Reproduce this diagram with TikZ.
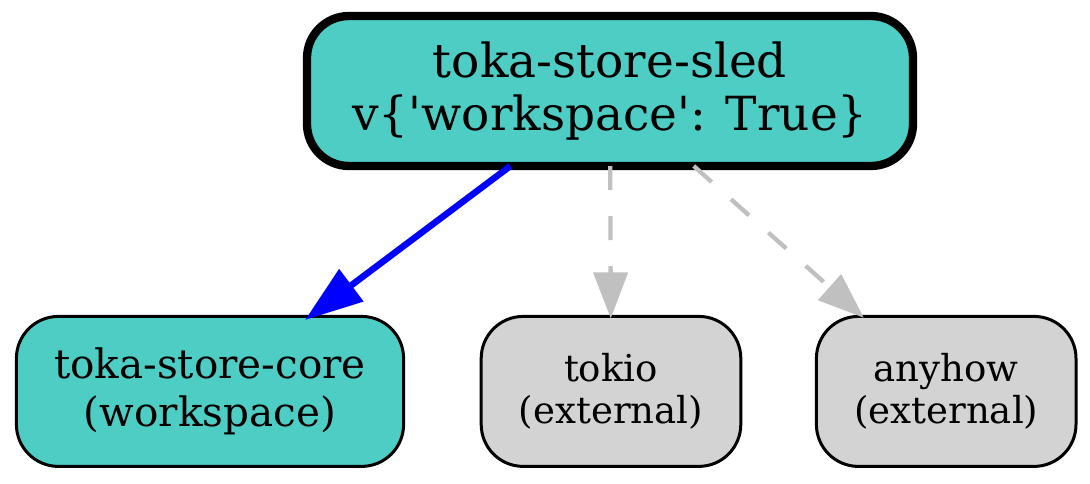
\documentclass[tikz,border=0pt]{standalone}
\usepackage{fontspec}
\newfontfamily\dvs{DejaVu Serif}
\usetikzlibrary{arrows.meta}
\definecolor{tealfill}{HTML}{4ECDC4}
\definecolor{lgreyfill}{HTML}{D3D3D3}
\definecolor{edgegrey}{HTML}{C0C0C0}
\definecolor{depblue}{HTML}{0000FF}
\begin{document}
\begin{tikzpicture}[x=1pt,y=-1pt,
  box/.style={rectangle, rounded corners=42pt, draw=black, line width=3pt,
    inner sep=0pt, outer sep=0pt, align=center, minimum height=150pt},
  rootbox/.style={box, fill=tealfill, line width=8.3pt, minimum width=606pt,
    font=\dvs\fontsize{47}{53.3}\selectfont},
  wsbox/.style={box, fill=tealfill, minimum width=387.2pt,
    font=\dvs\fontsize{40.5}{47.3}\selectfont},
  extbox/.style={box, fill=lgreyfill, minimum width=259.6pt,
    font=\dvs\fontsize{37.1}{42}\selectfont},
  depedge/.style={draw=depblue, line width=6.5pt,
    -{Triangle[length=58pt,width=39pt]}, shorten >=-6pt},
  extedge/.style={draw=edgegrey, line width=4.3pt, dash pattern=on 24pt off 26pt,
    -{Triangle[length=46pt,width=34pt]}, shorten >=-2pt}
]
\useasboundingbox (0,0) rectangle (1090,483);
\node[rootbox] (sled) at (610,91) {toka-store-sled\\v\{'workspace': True\}};
\node[wsbox] (core) at (210,391.4) {toka-store-core\\(workspace)};
\node[extbox] (tokio) at (611,391.4) {tokio\\(external)};
\node[extbox] (anyhow) at (946.2,391.4) {anyhow\\(external)};
\draw[depedge] (sled) -- (core);
\draw[extedge] (sled) -- (tokio);
\draw[extedge] (sled) -- (anyhow);
\end{tikzpicture}
\end{document}
